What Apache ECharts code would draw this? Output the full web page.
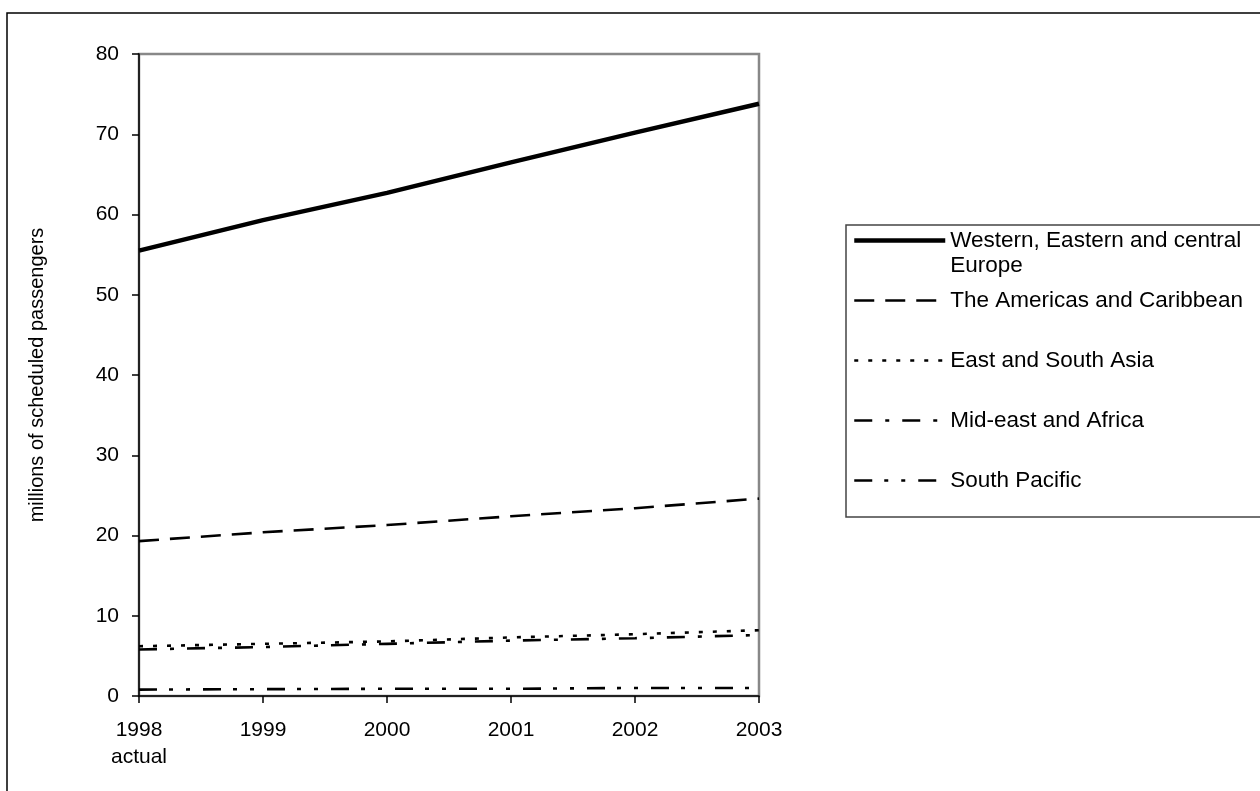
<!DOCTYPE html>
<html>
<head>
<meta charset="utf-8">
<script src="https://cdn.jsdelivr.net/npm/echarts@6/dist/echarts.min.js"></script>
<style>
  html, body { margin: 0; padding: 0; background: #fff; }
  #chart { width: 1260px; height: 791px; }
</style>
</head>
<body>
<div id="chart"></div>
<script>
// Scheduled passengers by region, millions
const years = ['1998', '1999', '2000', '2001', '2002', '2003'];
const europe = [55.5, 59.3, 62.7, 66.5, 70.2, 73.8];
const americas = [19.3, 20.4, 21.3, 22.4, 23.4, 24.6];
const eastSouthAsia = [6.2, 6.5, 6.8, 7.3, 7.7, 8.2];
const midEastAfrica = [5.8, 6.1, 6.5, 6.9, 7.2, 7.6];
const southPacific = [0.8, 0.85, 0.9, 0.9, 1.0, 1.0];
const yTicks = [0, 10, 20, 30, 40, 50, 60, 70, 80];

const FONT = 'Liberation Sans';
const BLANK = '\u00a0';

const seriesDefs = [
  { name: 'Western, Eastern and central Europe', label: 'Western, Eastern and central\nEurope',
    data: europe, width: 4.5, type: 'solid' },
  { name: 'The Americas and Caribbean', data: americas, width: 2.6, type: [20, 11] },
  { name: 'East and South Asia', data: eastSouthAsia, width: 2.6, type: [4, 10] },
  { name: 'Mid-east and Africa', data: midEastAfrica, width: 2.6, type: [18, 13, 4, 13] },
  { name: 'South Pacific', data: southPacific, width: 2.6, type: [18, 12, 4, 13, 4, 13] }
];

// every legend entry is three text lines tall, with the sample line beside the middle one
function legendText(name) {
  const s = seriesDefs.find(d => d.name === name);
  return s.label ? BLANK + '\n' + s.label : BLANK + '\n' + name + '\n' + BLANK;
}

const chart = echarts.init(document.getElementById('chart'), null, { renderer: 'canvas' });

chart.setOption({
  animation: false,
  backgroundColor: '#fff',
  textStyle: { fontFamily: FONT },
  graphic: [
    // outer frame
    { type: 'rect', shape: { x: 7, y: 13, width: 1300, height: 850 },
      style: { fill: 'none', stroke: '#000', lineWidth: 1.5 }, silent: true, z: 0 },
    // legend box
    { type: 'rect', shape: { x: 846, y: 225, width: 430, height: 292 },
      style: { fill: 'none', stroke: '#444', lineWidth: 1.5 }, silent: true, z: 0 }
  ],
  grid: {
    left: 139, top: 54, right: 501, bottom: 95,
    show: true, borderColor: '#888', borderWidth: 2.5, backgroundColor: '#fff'
  },
  legend: {
    orient: 'vertical',
    left: 852, top: 203,
    padding: 0,
    itemWidth: 91, itemHeight: 12, itemGap: -15,
    data: seriesDefs.map(s => ({
      name: s.name,
      lineStyle: { width: s.width, type: s.type, color: '#000', cap: 'butt' }
    })),
    formatter: legendText,
    itemStyle: { color: 'rgba(0,0,0,0)', borderWidth: 0, opacity: 0 },
    textStyle: { fontFamily: FONT, fontSize: 22.5, color: '#000', lineHeight: 25 }
  },
  xAxis: {
    type: 'category',
    data: years,
    boundaryGap: false,
    axisLine: { lineStyle: { color: '#000', width: 1.5 } },
    axisTick: { show: true, length: 7, alignWithLabel: true, lineStyle: { color: '#000', width: 1.5 } },
    axisLabel: {
      margin: 21, fontFamily: FONT, fontSize: 21, color: '#000', lineHeight: 27,
      formatter: (v, i) => i === 0 ? v + '\nactual' : v
    },
    splitLine: { show: false }
  },
  yAxis: {
    type: 'value',
    min: yTicks[0], max: yTicks[yTicks.length - 1], interval: 10,
    name: 'millions of scheduled passengers',
    nameLocation: 'middle', nameGap: 92, nameRotate: 90,
    nameTextStyle: { fontFamily: FONT, fontSize: 20, color: '#000' },
    axisLine: { show: true, lineStyle: { color: '#000', width: 1.5 } },
    axisTick: { show: true, length: 7, lineStyle: { color: '#000', width: 1.5 } },
    axisLabel: { margin: 20, fontFamily: FONT, fontSize: 21, color: '#000' },
    splitLine: { show: false }
  },
  series: seriesDefs.map(s => ({
    name: s.name,
    type: 'line',
    data: s.data,
    symbol: 'none',
    showSymbol: false,
    smooth: false,
    clip: false,
    lineStyle: { color: '#000', width: s.width, type: s.type, cap: 'butt' },
    itemStyle: { color: '#000' }
  }))
});
</script>
</body>
</html>
